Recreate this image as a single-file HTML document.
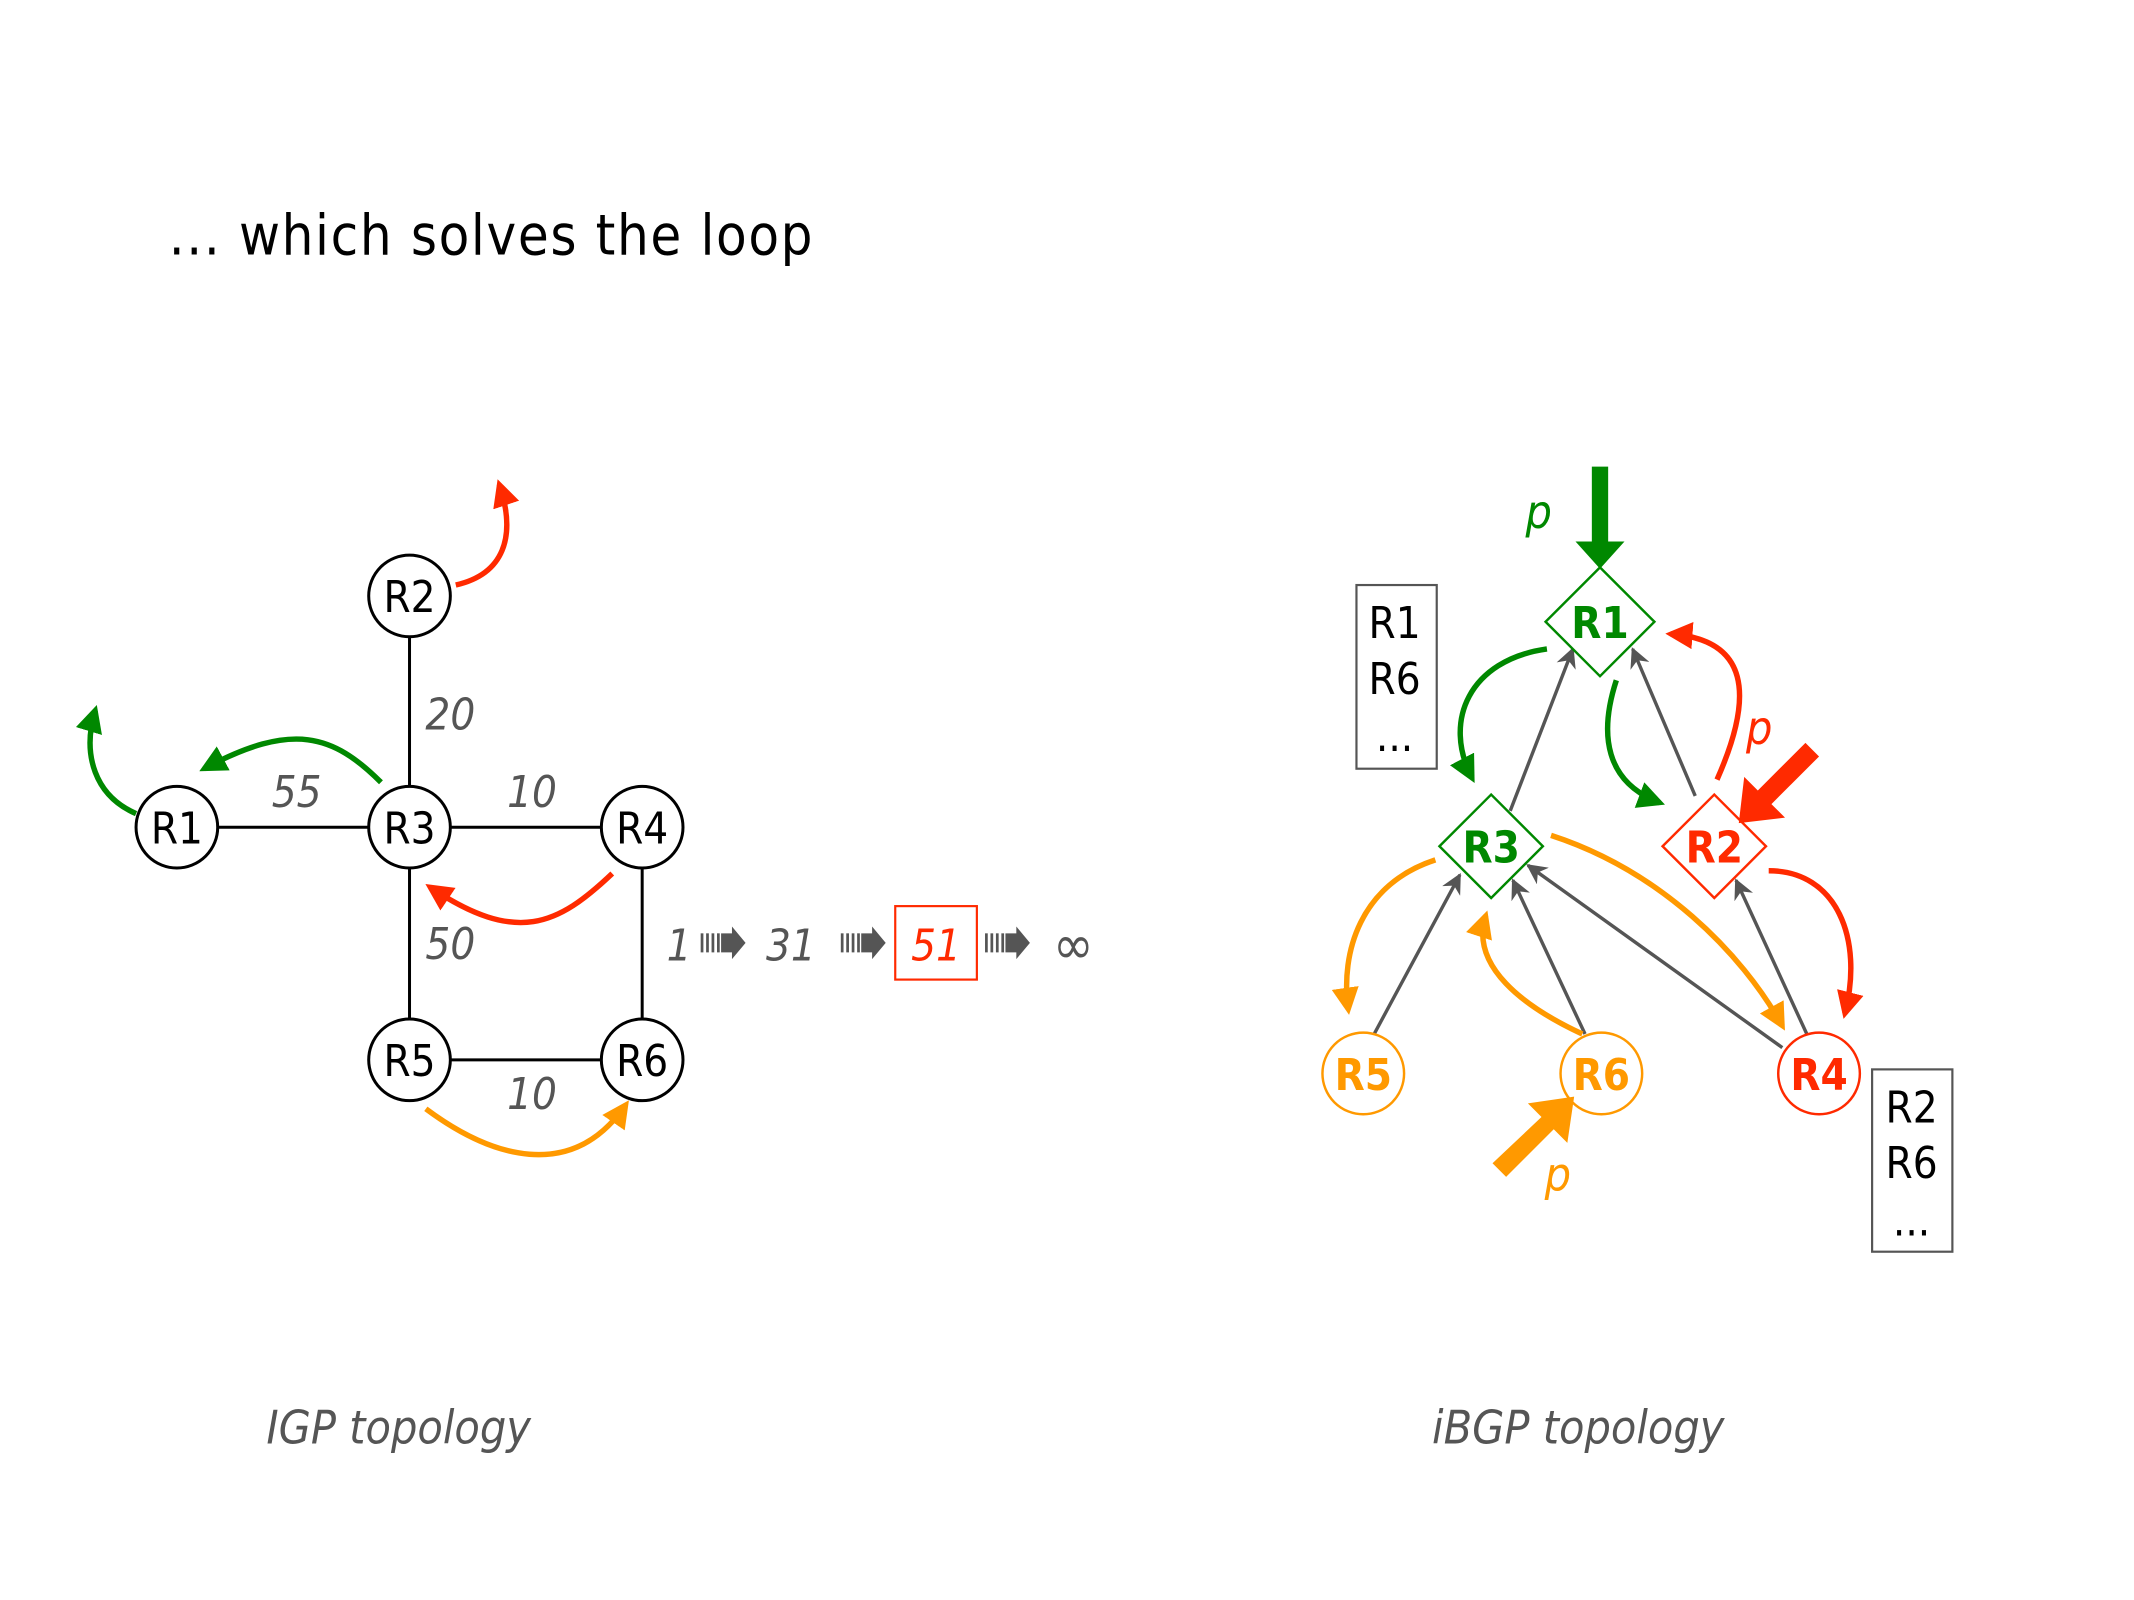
<!DOCTYPE html>
<html><head><meta charset="utf-8"><style>html,body{margin:0;padding:0;background:#fff}svg{display:block}</style></head><body>
<svg width="2134" height="1600" viewBox="0 0 1568 1176" preserveAspectRatio="xMinYMin meet" xmlns="http://www.w3.org/2000/svg" font-family="'DejaVu Sans Condensed','Liberation Sans',sans-serif">
<defs>
<marker id="g" viewBox="0 0 10 10" refX="8" refY="5" markerWidth="5" markerHeight="5" orient="auto" markerUnits="strokeWidth"><path d="M0,0L10,5L0,10z" fill="#008800"/></marker>
<marker id="r" viewBox="0 0 10 10" refX="8" refY="5" markerWidth="5" markerHeight="5" orient="auto" markerUnits="strokeWidth"><path d="M0,0L10,5L0,10z" fill="#ff2a00"/></marker>
<marker id="o" viewBox="0 0 10 10" refX="8" refY="5" markerWidth="5" markerHeight="5" orient="auto" markerUnits="strokeWidth"><path d="M0,0L10,5L0,10z" fill="#ff9900"/></marker>
<marker id="k" viewBox="0 0 10 10" refX="9" refY="5" markerWidth="6" markerHeight="6" orient="auto" markerUnits="strokeWidth"><path d="M0,0L10,5L0,10L3,5z" fill="#555"/></marker>
</defs>
<text x="124" y="187" font-size="41" letter-spacing="1.2" fill="#000">... which solves the loop</text>
<g stroke="#000" stroke-width="2.2">
<line x1="301" y1="438" x2="301" y2="608"/><line x1="130" y1="608" x2="472" y2="608"/>
<line x1="301" y1="608" x2="301" y2="779"/><line x1="472" y1="608" x2="472" y2="779"/>
<line x1="301" y1="779" x2="472" y2="779"/></g>
<g stroke="#000" stroke-width="2.2" fill="#fff">
<circle cx="301" cy="438" r="30"/><circle cx="130" cy="608" r="30"/><circle cx="301" cy="608" r="30"/>
<circle cx="472" cy="608" r="30"/><circle cx="301" cy="779" r="30"/><circle cx="472" cy="779" r="30"/></g>
<g font-size="32" text-anchor="middle" fill="#000">
<text x="301" y="450">R2</text><text x="130" y="620">R1</text><text x="301" y="620">R3</text>
<text x="472" y="620">R4</text><text x="301" y="791">R5</text><text x="472" y="791">R6</text></g>
<g font-size="32" font-style="italic" fill="#555" text-anchor="middle">
<text x="331" y="536">20</text><text x="218" y="593">55</text><text x="391" y="593">10</text>
<text x="331" y="705">50</text><text x="391" y="815">10</text></g>
<g fill="none" stroke-width="4">
<path d="M335,430 C370,422 380,395 367,356" stroke="#ff2a00" marker-end="url(#r)"/>
<path d="M100,598 C70,585 60,555 70,522" stroke="#008800" marker-end="url(#g)"/>
<path d="M280,575 C245,540 215,530 150,565" stroke="#008800" marker-end="url(#g)"/>
<path d="M450,642 C410,680 380,695 316,652" stroke="#ff2a00" marker-end="url(#r)"/>
<path d="M313,815 C360,850 420,870 460,812" stroke="#ff9900" marker-end="url(#o)"/>
</g>
<g font-size="32" font-style="italic" fill="#555">
<text x="490" y="706">1</text><text x="563" y="706">31</text><text x="774" y="708" font-size="40">∞</text></g>
<g fill="#555">
<g id="ar"><rect x="515" y="686" width="2" height="14"/><rect x="519" y="686" width="2" height="14"/><rect x="523" y="686" width="2" height="14"/><rect x="527" y="686" width="2" height="14"/><path d="M530,686h8v-5l10,12l-10,12v-5h-8z"/></g>
<use href="#ar" x="103"/><use href="#ar" x="209"/></g>
<rect x="658" y="666" width="60" height="54" fill="none" stroke="#ff2a00" stroke-width="1.6"/>
<text x="688" y="706" font-size="32" font-style="italic" fill="#ff2a00" text-anchor="middle">51</text>
<g font-size="34" font-style="italic" fill="#555" text-anchor="middle">
<text x="293" y="1061">IGP topology</text><text x="1160" y="1061">iBGP topology</text></g>
<g stroke="#555" stroke-width="2.5" marker-end="url(#k)">
<line x1="1110" y1="596" x2="1156" y2="477"/><line x1="1246" y1="585" x2="1200" y2="477"/>
<line x1="1010" y1="760" x2="1073" y2="643"/><line x1="1165" y1="760" x2="1112" y2="647"/>
<line x1="1310" y1="770" x2="1123" y2="636"/><line x1="1328" y1="760" x2="1276" y2="647"/></g>
<g stroke-width="1.8" fill="#fff">
<path d="M1176,417L1216,457L1176,497L1136,457z" stroke="#008800"/>
<path d="M1096,584L1134,622L1096,660L1058,622z" stroke="#008800"/>
<path d="M1260,584L1298,622L1260,660L1222,622z" stroke="#ff2a00"/>
<circle cx="1002" cy="789" r="30" stroke="#ff9900"/><circle cx="1177" cy="789" r="30" stroke="#ff9900"/>
<circle cx="1337" cy="789" r="30" stroke="#ff2a00"/></g>
<g font-size="32" font-weight="bold" text-anchor="middle">
<text x="1176" y="469" fill="#008800">R1</text><text x="1096" y="634" fill="#008800">R3</text>
<text x="1260" y="634" fill="#ff2a00">R2</text><text x="1002" y="801" fill="#ff9900">R5</text>
<text x="1177" y="801" fill="#ff9900">R6</text><text x="1337" y="801" fill="#ff2a00">R4</text></g>
<rect x="997" y="430" width="59" height="135" fill="none" stroke="#555" stroke-width="1.6"/>
<rect x="1376" y="786" width="59" height="134" fill="none" stroke="#555" stroke-width="1.6"/>
<g font-size="32" text-anchor="middle" fill="#000">
<text x="1025" y="469">R1</text><text x="1025" y="510">R6</text><text x="1025" y="552">...</text>
<text x="1405" y="825">R2</text><text x="1405" y="866">R6</text><text x="1405" y="908">...</text></g>
<g fill="none" stroke-width="4">
<path d="M1137,477 C1080,485 1060,530 1082,572" stroke="#008800" marker-end="url(#g)"/>
<path d="M1188,500 C1175,540 1180,575 1220,590" stroke="#008800" marker-end="url(#g)"/>
<path d="M1262,573 C1290,510 1285,470 1228,466" stroke="#ff2a00" marker-end="url(#r)"/>
<path d="M1300,640 C1350,640 1370,690 1356,745" stroke="#ff2a00" marker-end="url(#r)"/>
<path d="M1055,632 C1000,650 985,700 991,742" stroke="#ff9900" marker-end="url(#o)"/>
<path d="M1163,760 C1120,740 1080,710 1092,673" stroke="#ff9900" marker-end="url(#o)"/>
<path d="M1140,614 C1220,640 1280,700 1310,754" stroke="#ff9900" marker-end="url(#o)"/>
</g>
<path d="M1170,343h12v55h12l-18,20l-18,-20h12z" fill="#008800"/>
<path d="M1327,546l10,10l-35,35l10,10l-34,4l4,-34l10,10z" fill="#ff2a00"/>
<path d="M1097,855l10,10l35,-35l10,10l5,-34l-34,5l10,10z" fill="#ff9900"/>
<g font-size="34" font-style="italic" text-anchor="middle">
<text x="1131" y="388" fill="#008800">p</text><text x="1293" y="547" fill="#ff2a00">p</text>
<text x="1145" y="875" fill="#ff9900">p</text></g>
</svg>
</body></html>
